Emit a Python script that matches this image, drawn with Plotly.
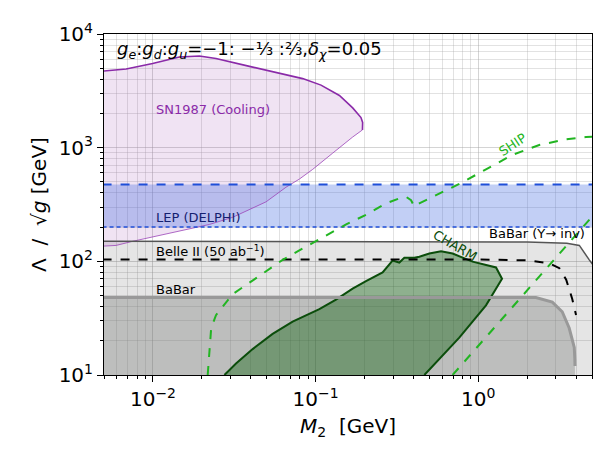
import plotly.graph_objects as go

# ---------------- data ----------------
sn_upper_x = [0.0049, 0.00684, 0.00995, 0.01453, 0.0193, 0.0244, 0.0392, 0.0598, 0.0832, 0.1079, 0.140, 0.169, 0.190, 0.1945, 0.1940]
sn_upper_y = [4710, 4920, 5500, 6270, 6400, 6080, 5190, 4530, 4050, 3550, 2880, 2240, 1840, 1668, 1433]
sn_lower_x = [0.1940, 0.169, 0.127, 0.1054, 0.0959, 0.0794, 0.0658, 0.0496, 0.0392, 0.0309, 0.0222, 0.0132, 0.0095, 0.0075, 0.00593, 0.0049]
sn_lower_y = [1433, 1241, 893, 711, 644, 529, 449, 334, 284, 244, 211, 179, 163, 150, 138, 136]

lep_low = 200
lep_high = 475

ups_x = [0.0049, 0.5, 2.0, 3.5, 4.18, 4.81, 5.1]
ups_y = [150, 150, 148, 144, 138, 103, 92]

belle_x = [0.0049, 0.919, 2.0, 2.73, 3.15, 3.47, 3.78, 3.99]
belle_y = [104, 104, 102, 96, 87, 69, 46.7, 33.7]

babar_x = [0.0049, 1.0, 2.26, 2.85, 3.28, 3.62, 3.89, 3.92, 3.93]
babar_y = [48, 48, 48, 43.8, 36, 25.9, 17.5, 14.0, 12.0]

charm_x = [0.0275, 0.0324, 0.0410, 0.0544, 0.0722, 0.1054, 0.1334, 0.1688, 0.204, 0.258, 0.297, 0.327, 0.351, 0.404, 0.434, 0.500, 0.590, 0.695, 0.922, 1.285, 1.399, 1.115, 0.764, 0.576, 0.466]
charm_y = [10, 12.6, 16.9, 23.0, 29.5, 37.9, 46.1, 57.6, 67.0, 80.0, 101.4, 97.5, 107.6, 107.6, 109.7, 117.0, 122.5, 117.0, 99.4, 88.3, 70.2, 41.0, 21.3, 13.9, 10]

ship_x = [0.0217, 0.0228, 0.0244, 0.0281, 0.0309, 0.0392, 0.0496, 0.0627, 0.0794, 0.1005, 0.127, 0.154, 0.204, 0.271, 0.330, 0.360, 0.386, 0.404, 0.434, 0.764, 1.115, 1.625, 2.37, 3.46, 4.59, 5.0]
ship_y = [10, 25.9, 33.6, 43.8, 51.5, 64.9, 81.7, 103, 125, 150, 179, 211, 257, 324, 360, 369, 345, 303, 324, 480, 644, 866, 1055, 1187, 1242, 1245]

ship2_x = [0.695, 4.93]
ship2_y = [10, 241]

xmaj = [0.01, 0.1, 1]
xmaj_txt = ["10<sup>−2</sup>", "10<sup>−1</sup>", "10<sup>0</sup>"]
ymaj = [10, 100, 1000, 10000]
ymaj_txt = ["10<sup>1</sup>", "10<sup>2</sup>", "10<sup>3</sup>", "10<sup>4</sup>"]

# ---------------- figure ----------------
XL, XR = 0.0049, 5.1
YB = 9.5

fig = go.Figure()

fig.add_trace(go.Scatter(x=ups_x + [XR, XL], y=ups_y + [YB, YB], fill="toself",
                         fillcolor="rgba(0,0,0,0.10)", line=dict(width=0), mode="lines",
                         hoverinfo="skip", showlegend=False))
fig.add_trace(go.Scatter(x=babar_x + [3.93, XL], y=babar_y + [YB, YB], fill="toself",
                         fillcolor="rgba(120,122,120,0.36)", line=dict(width=0), mode="lines",
                         hoverinfo="skip", showlegend=False))
fig.add_trace(go.Scatter(x=sn_upper_x + sn_lower_x, y=sn_upper_y + sn_lower_y, fill="toself",
                         fillcolor="rgba(140,40,160,0.13)", line=dict(width=0), mode="lines",
                         hoverinfo="skip", showlegend=False))
fig.add_trace(go.Scatter(x=[XL, XR, XR, XL], y=[lep_low, lep_low, lep_high, lep_high], fill="toself",
                         fillcolor="rgba(65,105,225,0.32)", line=dict(width=0), mode="lines",
                         hoverinfo="skip", showlegend=False))
fig.add_trace(go.Scatter(x=charm_x, y=charm_y, fill="toself",
                         fillcolor="rgba(0,90,0,0.38)", line=dict(color="#0b4d0b", width=2),
                         mode="lines", hoverinfo="skip", showlegend=False))

fig.add_trace(go.Scatter(x=sn_upper_x, y=sn_upper_y, mode="lines",
                         line=dict(color="#8a2aa8", width=1.6), showlegend=False))
fig.add_trace(go.Scatter(x=sn_lower_x, y=sn_lower_y, mode="lines",
                         line=dict(color="#9a44b8", width=0.8), showlegend=False))
fig.add_trace(go.Scatter(x=[XL, XR], y=[lep_high, lep_high], mode="lines",
                         line=dict(color="#1f4fd8", width=2, dash="dash"), showlegend=False))
fig.add_trace(go.Scatter(x=[XL, XR], y=[lep_low, lep_low], mode="lines",
                         line=dict(color="#1f4fd8", width=1.5, dash="4px,3px"), showlegend=False))
fig.add_trace(go.Scatter(x=ups_x, y=ups_y, mode="lines",
                         line=dict(color="#555555", width=1.5), showlegend=False))
fig.add_trace(go.Scatter(x=babar_x, y=babar_y, mode="lines",
                         line=dict(color="#999999", width=3), showlegend=False))
fig.add_trace(go.Scatter(x=belle_x, y=belle_y, mode="lines",
                         line=dict(color="black", width=2, dash="dash"), showlegend=False))
fig.add_trace(go.Scatter(x=ship_x, y=ship_y, mode="lines",
                         line=dict(color="#22b522", width=2, dash="dash"), showlegend=False))
fig.add_trace(go.Scatter(x=ship2_x, y=ship2_y, mode="lines",
                         line=dict(color="#22b522", width=2, dash="dash"), showlegend=False))

FONT = "DejaVu Sans"

def ann(text, x, y, size=13, color="black", xanchor="left", angle=0):
    fig.add_annotation(text=text, x=x, y=y, xref="paper", yref="paper", showarrow=False,
                       xanchor=xanchor, yanchor="middle", textangle=angle,
                       font=dict(family=FONT, size=size, color=color))

ann("<i>g<sub>e</sub></i>:<i>g<sub>d</sub></i>:<i>g<sub>u</sub></i>=−1: −⅓ :⅔,<i>δ<sub>χ</sub></i>=0.05",
    0.022, 0.953, size=18)
ann("SN1987 (Cooling)", 0.1025, 0.779, color="#8a2aa8")
ann("LEP (DELPHI)", 0.1025, 0.461, color="#142070")
ann("Belle II (50 ab<sup>−1</sup>)", 0.1025, 0.364)
ann("BaBar", 0.1025, 0.252)
ann("BaBar (Υ→ inv)", 0.990, 0.415, xanchor="right")
ann("SHIP", 0.838, 0.675, color="#22b522", xanchor="center", angle=-33)
ann("CHARM", 0.719, 0.379, color="#0b4d0b", xanchor="center", angle=30)

xminor = [0.005, 0.006, 0.007, 0.008, 0.009] + [k * 0.01 for k in range(2, 10)] + \
         [k * 0.1 for k in range(2, 10)] + [2, 3, 4, 5]
yminor = [k * 10 for k in range(2, 10)] + [k * 100 for k in range(2, 10)] + [k * 1000 for k in range(2, 10)]

fig.update_xaxes(type="log", range=[0.69897 - 3.0, 0.69897], tickvals=xmaj, ticktext=xmaj_txt,
                 ticks="outside", ticklen=6, tickcolor="black", showline=True, linecolor="black",
                 linewidth=1, mirror=True, showgrid=True, gridcolor="rgba(160,160,160,0.45)",
                 zeroline=False, tickfont=dict(family=FONT, size=20, color="black"),
                 minor=dict(tickvals=xminor, ticks="outside", ticklen=3, tickcolor="black",
                            showgrid=True, gridcolor="rgba(160,160,160,0.30)"),
                 title=dict(text="<i>M</i><sub>2</sub>  [GeV]", font=dict(family=FONT, size=20, color="black"),
                            standoff=8))
fig.update_yaxes(type="log", range=[1, 4], tickvals=ymaj, ticktext=ymaj_txt,
                 ticks="outside", ticklen=6, tickcolor="black", showline=True, linecolor="black",
                 linewidth=1, mirror=True, showgrid=True, gridcolor="rgba(160,160,160,0.45)",
                 zeroline=False, tickfont=dict(family=FONT, size=20, color="black"),
                 minor=dict(tickvals=yminor, ticks="outside", ticklen=3, tickcolor="black",
                            showgrid=True, gridcolor="rgba(160,160,160,0.30)"),
                 title=dict(text="Λ  /  √<i>g</i> [GeV]", font=dict(family=FONT, size=20, color="black"),
                            standoff=6))

fig.update_layout(width=607, height=455, margin=dict(l=96, r=23, t=16, b=88),
                  plot_bgcolor="white", paper_bgcolor="white", showlegend=False)

fig.write_html("out.html")
